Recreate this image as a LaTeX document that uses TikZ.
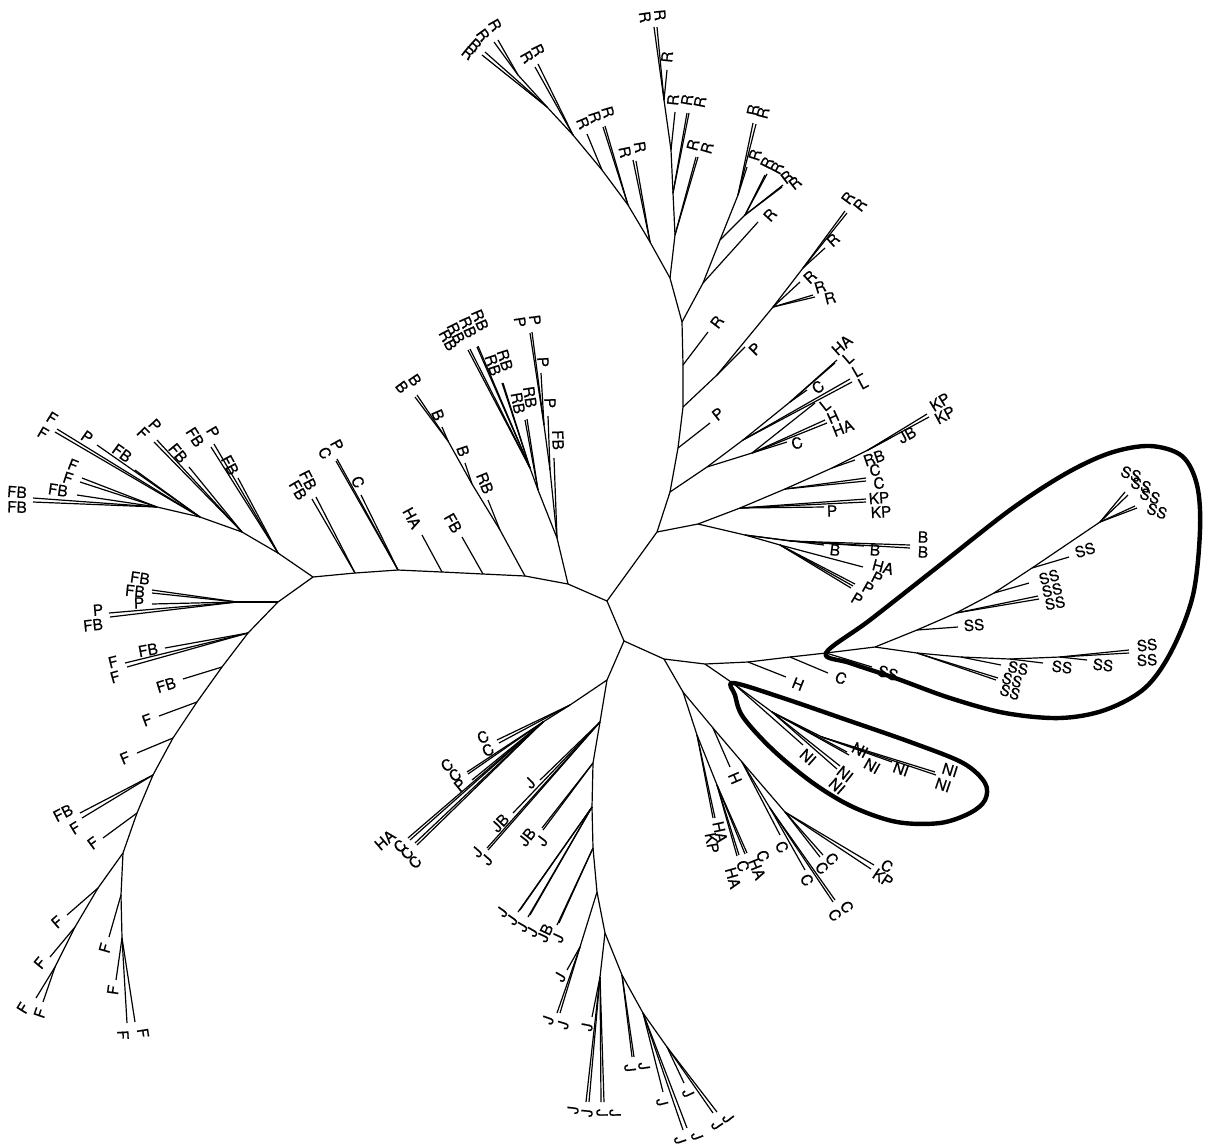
\documentclass[tikz,border=0pt]{standalone}
\usepackage{fontspec}
\setmainfont{TeX Gyre Heros}
\newfontfamily\tagfont{TeX Gyre Heros}[FakeBold=0.5]
\usepackage{tikz}
\usetikzlibrary{calc}

% tip of the tree: [turn], parent, name, tip, label centre, text
\newcommand\leafat[6][]{%
  \coordinate (#3) at (#4);
  \draw[branch] (#2) -- (#3);
  \ifx\relax#1\relax
    \pgfmathanglebetweenpoints{\pgfpointanchor{#2}{center}}{\pgfpointanchor{#3}{center}}%
    \let\tipang\pgfmathresult
    \pgfmathsetmacro\tiprot{ifthenelse(and(\tipang>90,\tipang<=270),\tipang-180,\tipang)}%
  \else
    \def\tiprot{#1}%
  \fi
  \node[tag,rotate=\tiprot] (#3t) at (#5) {#6};%
}

\begin{document}
\begin{tikzpicture}[x=0.75pt,y=-0.75pt,
  branch/.style={line width=0.9pt},
  tag/.style={inner sep=0pt,font=\tagfont\fontsize{11.5}{13}\selectfont},
  clade/.style={line width=3.3pt,line join=round}
]
\useasboundingbox (0,0) rectangle (1209,1147);

% inner nodes
\coordinate (a) at (607,601);
\coordinate (b) at (624,641);
\coordinate (u1) at (657,532);
\coordinate (u2) at (670,492);
\coordinate (n1) at (698,524);
\coordinate (n2) at (740,508);
\coordinate (n4) at (785,489);
\coordinate (n5) at (832,468);
\coordinate (n6) at (868,450);
\coordinate (n3) at (745,535);
\coordinate (nb) at (790,541);
\coordinate (np) at (780,545);
\coordinate (h0) at (707,467);
\coordinate (h1) at (743,440);
\coordinate (h3) at (790,402);
\coordinate (h2) at (752,453);
\coordinate (t1) at (678,448);
\coordinate (t2) at (683,407);
\coordinate (t3) at (683,365);
\coordinate (t4) at (682,322);
\coordinate (t5) at (670,278);
\coordinate (q1) at (717,375);
\coordinate (q2) at (773,307);
\coordinate (q3) at (803,268);
\coordinate (rl1) at (650,242);
\coordinate (rl2) at (628,205);
\coordinate (rl3) at (602,170);
\coordinate (rl4) at (573,135);
\coordinate (rl5) at (547,107);
\coordinate (rl6) at (518,75);
\coordinate (rm1) at (675,235);
\coordinate (rm2) at (673,193);
\coordinate (rm3) at (671,150);
\coordinate (rm4) at (664,100);
\coordinate (rr1) at (703,283);
\coordinate (rr2) at (720,240);
\coordinate (rr3) at (738,195);
\coordinate (rr4) at (745,215);
\coordinate (ar0) at (568,584);
\coordinate (ar1) at (557,538);
\coordinate (ar2) at (525,576);
\coordinate (ar3) at (483,574);
\coordinate (ar4) at (442,572);
\coordinate (ar5) at (398,570);
\coordinate (ar6) at (355,573);
\coordinate (l0) at (313,577);
\coordinate (pp1) at (550,470);
\coordinate (pp2) at (544,425);
\coordinate (rbn1) at (538,490);
\coordinate (rbn2) at (530,468);
\coordinate (bn1) at (500,530);
\coordinate (bn2) at (472,484);
\coordinate (bn3) at (448,441);
\coordinate (tl1) at (278,553);
\coordinate (tl2) at (242,532);
\coordinate (tl3) at (200,517);
\coordinate (tl4) at (157,507);
\coordinate (ll1) at (278,602);
\coordinate (ll2) at (237,602);
\coordinate (ll3) at (248,633);
\coordinate (ll4) at (222,667);
\coordinate (ll5) at (197,702);
\coordinate (ll6) at (173,738);
\coordinate (ll7) at (153,775);
\coordinate (ll8) at (137,813);
\coordinate (ll9) at (123,853);
\coordinate (ll10) at (98,888);
\coordinate (ll11) at (75,927);
\coordinate (ll14) at (55,967);
\coordinate (ll12) at (121,895);
\coordinate (ll13) at (122,938);
\coordinate (jn0) at (607,680);
\coordinate (lc1) at (570,705);
\coordinate (lc2) at (543,722);
\coordinate (jn1) at (600,722);
\coordinate (jn2) at (593,763);
\coordinate (jn3) at (592,807);
\coordinate (jn4) at (593,848);
\coordinate (jn5) at (597,892);
\coordinate (jn5a) at (580,947);
\coordinate (jn6) at (605,933);
\coordinate (jn7) at (600,977);
\coordinate (jn8) at (622,975);
\coordinate (jn9) at (643,1013);
\coordinate (jn10) at (667,1047);
\coordinate (s0) at (664,659);
\coordinate (s0a) at (705,664);
\coordinate (s0b) at (748,662);
\coordinate (s0c) at (790,657);
\coordinate (s1) at (826,653);
\coordinate (ni0) at (734,684);
\coordinate (nin1) at (772,712);
\coordinate (nin2) at (822,737);
\coordinate (sa) at (875,647);
\coordinate (su1) at (917,630);
\coordinate (su2) at (956,613);
\coordinate (su3) at (994,593);
\coordinate (su4) at (1032,568);
\coordinate (su6) at (1100,522);
\coordinate (sl1) at (917,653);
\coordinate (sl2) at (961,657);
\coordinate (sl3) at (1010,659);
\coordinate (sl4) at (1060,657);
\coordinate (dn1) at (683,692);
\coordinate (dn2) at (697,735);
\coordinate (dn3) at (717,785);
\coordinate (dn4) at (713,728);
\coordinate (dn5) at (742,762);
\coordinate (dn6) at (770,808);
\coordinate (dn7) at (785,812);

% inner branches
\draw[branch] (a) -- (b);
\draw[branch] (a) -- (u1) -- (u2) -- (t1) -- (t2) -- (t3) -- (t4) -- (t5);
\draw[branch] (u1) -- (n1) -- (n2) -- (n4) -- (n5) -- (n6);
\draw[branch] (n1) -- (n3) -- (nb);
\draw[branch] (n3) -- (np);
\draw[branch] (u2) -- (h0) -- (h1) -- (h3);
\draw[branch] (h0) -- (h2);
\draw[branch] (t2) -- (q1) -- (q2) -- (q3);
\draw[branch] (t5) -- (rl1) -- (rl2) -- (rl3) -- (rl4) -- (rl5) -- (rl6);
\draw[branch] (t5) -- (rm1) -- (rm2) -- (rm3) -- (rm4);
\draw[branch] (t4) -- (rr1) -- (rr2) -- (rr3);
\draw[branch] (rr2) -- (rr4);
\draw[branch] (a) -- (ar0) -- (ar2) -- (ar3) -- (ar4) -- (ar5) -- (ar6) -- (l0);
\draw[branch] (ar0) -- (ar1) -- (pp1) -- (pp2);
\draw[branch] (ar1) -- (rbn1) -- (rbn2);
\draw[branch] (ar2) -- (bn1) -- (bn2) -- (bn3);
\draw[branch] (l0) -- (tl1) -- (tl2) -- (tl3) -- (tl4);
\draw[branch] (l0) -- (ll1) -- (ll3) -- (ll4) -- (ll5) -- (ll6) -- (ll7) -- (ll8) -- (ll9) -- (ll10) -- (ll11) -- (ll14);
\draw[branch] (ll1) -- (ll2);
\draw[branch] (ll9) -- (ll12) -- (ll13);
\draw[branch] (b) -- (jn0) -- (jn1) -- (jn2) -- (jn3) -- (jn4) -- (jn5) -- (jn6) -- (jn7);
\draw[branch] (jn0) -- (lc1) -- (lc2);
\draw[branch] (jn5) -- (jn5a);
\draw[branch] (jn6) -- (jn8) -- (jn9) -- (jn10);
\draw[branch] (b) -- (s0) -- (s0a) -- (s0b) -- (s0c) -- (s1) -- (sa) -- (su1) -- (su2) -- (su3) -- (su4) -- (su6);
\draw[branch] (sa) -- (sl1) -- (sl2) -- (sl3) -- (sl4);
\draw[branch] (s0a) -- (ni0) -- (nin1) -- (nin2);
\draw[branch] (s0) -- (dn1) -- (dn2) -- (dn3);
\draw[branch] (dn1) -- (dn4) -- (dn5) -- (dn6);
\draw[branch] (dn5) -- (dn7);

% upper right
\leafat{n2}{kp1}{866,499}{879,498}{KP}
\leafat{n2}{kp2}{866,502}{881,512}{KP}
\leafat{n2}{p1}{824,507}{832,511}{P}
\leafat{n4}{c1}{866,478}{875,470}{C}
\leafat{n4}{c2}{866,481}{879,483}{C}
\leafat{n5}{rb1}{855,460}{874,458}{RB}
\leafat{n6}{jb1}{892,437}{907,435}{JB}
\leafat{n6}{kp3}{927,414}{940,402}{KP}
\leafat{n6}{kp4}{929,417}{945,415}{KP}
\leafat{n3}{b1}{824,545}{835,550}{B}
\leafat{nb}{b2}{864,546}{875,550}{B}
\leafat{nb}{b3}{910,545}{923,537}{B}
\leafat{nb}{b4}{910,548}{923,552}{B}
\leafat{np}{ha1}{863,567}{883,567}{HA}
\leafat{np}{p2}{855,584}{877,578}{P}
\leafat{np}{p3}{853,586}{868,588}{P}
\leafat{np}{p4}{851,588}{857,599}{P}
\leafat{h3}{ha2}{837,360}{842,345}{HA}
\leafat{h3}{l1}{835,363}{848,358}{L}
\leafat{h3}{c3}{807,390}{818,387}{C}
\leafat{h1}{l2}{850,379}{857,371}{L}
\leafat{h1}{l3}{852,382}{863,383}{L}
\leafat{h2}{l4}{815,403}{825,405}{L}
\leafat{h2}{hh1}{825,420}{833,417}{H}
\leafat{h2}{ha3}{827,423}{843,428}{HA}
\leafat{h2}{c4}{787,442}{797,443}{C}
\leafat{t1}{p5}{710,423}{718,414}{P}
\leafat{t3}{r1}{708,332}{717,322}{R}
\leafat{q1}{p6}{745,347}{755,349}{P}
\leafat{q2}{r2}{800,282}{810,277}{R}
\leafat{q2}{r3}{813,295}{820,287}{R}
\leafat{q2}{r4}{815,297}{830,298}{R}
\leafat{q3}{r5}{825,248}{833,240}{R}
\leafat{q3}{r6}{845,211}{848,198}{R}
\leafat{q3}{r7}{847,213}{860,205}{R}

% top
\leafat{rl1}{r8}{633,160}{625,152}{R}
\leafat{rl1}{r9}{636,161}{640,147}{R}
\leafat{rl2}{r10}{603,127}{595,117}{R}
\leafat{rl2}{r11}{605,126}{608,112}{R}
\leafat{rl3}{r12}{587,134}{583,123}{R}
\leafat{rl4}{r13}{535,67}{527,57}{R}
\leafat{rl4}{r14}{538,64}{538,50}{R}
\leafat{rl5}{r15}{482,55}{468,53}{R}
\leafat{rl5}{r16}{485,52}{475,45}{R}
\leafat{rl6}{r17}{494,42}{483,35}{R}
\leafat{rl6}{r18}{498,40}{495,25}{R}
\leafat{rm1}{r19}{696,157}{693,145}{R}
\leafat{rm1}{r20}{698,157}{707,148}{R}
\leafat{rm2}{r21}{687,113}{687,100}{R}
\leafat{rm2}{r22}{689,113}{700,102}{R}
\leafat{rm3}{r23}{675,112}{673,100}{R}
\leafat{rm4}{r24}{667,70}{667,57}{R}
\leafat{rm4}{r25}{654,27}{645,17}{R}
\leafat{rm4}{r26}{657,27}{660,15}{R}
\leafat{rr1}{r27}{758,222}{770,215}{R}
\leafat{rr3}{r28}{747,167}{755,155}{R}
\leafat{rr3}{r29}{753,123}{753,110}{R}
\leafat{rr3}{r30}{756,124}{763,113}{R}
\leafat{rr4}{r31}{765,175}{767,163}{R}
\leafat{rr4}{r32}{767,174}{777,168}{R}
\leafat{rr4}{r33}{782,187}{787,177}{R}
\leafat{rr4}{r34}{783,185}{795,183}{R}

% left arc
\leafat{ar1}{fb1}{554,458}{558,440}{FB}
\leafat{pp1}{p7}{548,416}{550,403}{P}
\leafat{pp2}{p8}{541,373}{543,362}{P}
\leafat{pp2}{p9}{530,333}{520,322}{P}
\leafat{pp2}{p10}{532,332}{535,320}{P}
\leafat{rbn1}{rb2}{525,420}{518,403}{RB}
\leafat{rbn1}{rb3}{527,419}{530,397}{RB}
\leafat{rbn2}{rb4}{502,383}{493,365}{RB}
\leafat{rbn2}{rb5}{503,383}{505,360}{RB}
\leafat{rbn2}{rb6}{468,350}{448,340}{RB}
\leafat{rbn2}{rb7}{470,349}{456,333}{RB}
\leafat{rbn2}{rb8}{477,347}{468,327}{RB}
\leafat{rbn2}{rb9}{478,346}{480,320}{RB}
\leafat{bn1}{rb10}{488,500}{485,483}{RB}
\leafat{bn2}{b5}{465,463}{463,451}{B}
\leafat{bn3}{b6}{442,427}{438,415}{B}
\leafat{bn3}{b7}{417,395}{415,380}{B}
\leafat{bn3}{b8}{415,397}{402,387}{B}
\leafat{ar3}{fb2}{462,537}{453,523}{FB}
\leafat{ar4}{ha4}{422,535}{412,518}{HA}
\leafat{ar5}{c5}{361,495}{358,482}{C}
\leafat{ar5}{p11}{337,459}{337,445}{P}
\leafat{ar5}{c6}{336,461}{325,453}{C}
\leafat{ar6}{fb3}{316,497}{308,480}{FB}
\leafat{ar6}{fb4}{312,499}{298,490}{FB}

% top left
\leafat{tl1}{fb5}{238,478}{230,465}{FB}
\leafat{tl1}{p12}{214,444}{213,432}{P}
\leafat{tl1}{fb6}{211,447}{195,437}{FB}
\leafat{tl2}{p13}{157,440}{155,425}{P}
\leafat{tl2}{f1}{154,442}{143,433}{F}
\leafat{tl2}{fb7}{189,467}{178,453}{FB}
\leafat{tl3}{p14}{97,445}{87,437}{P}
\leafat{tl3}{fb8}{135,470}{122,453}{FB}
\leafat{tl3}{f2}{57,429}{52,418}{F}
\leafat{tl3}{f3}{55,432}{43,433}{F}
\leafat{tl4}{f4}{82,478}{73,465}{F}
\leafat{tl4}{f5}{80,482}{68,478}{F}
\leafat{tl4}{fb9}{77,495}{58,490}{FB}
\leafat{tl4}{fb10}{33,498}{17,492}{FB}
\leafat{tl4}{fb11}{33,502}{17,507}{FB}

% lower left
\leafat{ll2}{fb12}{152,590}{140,578}{FB}
\leafat{ll2}{fb13}{152,593}{135,591}{FB}
\leafat{ll2}{p15}{152,604}{139,603}{P}
\leafat{ll2}{p16}{109,613}{98,610}{P}
\leafat{ll2}{fb14}{110,617}{93,625}{FB}
\leafat{ll3}{fb15}{165,648}{148,650}{FB}
\leafat{ll3}{f6}{125,663}{113,662}{F}
\leafat{ll3}{f7}{127,667}{115,677}{F}
\leafat{ll4}{fb16}{183,679}{166,685}{FB}
\leafat{ll5}{f8}{159,716}{147,720}{F}
\leafat{ll6}{f9}{137,753}{125,758}{F}
\leafat{ll7}{fb17}{80,813}{63,813}{FB}
\leafat{ll7}{f10}{82,818}{75,828}{F}
\leafat{ll8}{f11}{103,838}{93,843}{F}
\leafat{ll10}{f12}{67,915}{57,922}{F}
\leafat{ll11}{f13}{50,957}{40,963}{F}
\leafat{ll14}{f14}{36,998}{23,1008}{F}
\leafat{ll14}{f15}{43,1002}{40,1013}{F}
\leafat{ll12}{f16}{109,937}{105,948}{F}
\leafat{ll13}{f17}{116,980}{113,990}{F}
\leafat{ll13}{f18}{127,1023}{123,1035}{F}
\leafat{ll13}{f19}{135,1022}{143,1033}{F}

% bottom
\leafat{lc1}{c7}{497,740}{483,737}{C}
\leafat{lc1}{c8}{499,743}{488,750}{C}
\leafat{lc2}{c9}{467,772}{447,765}{C}
\leafat{lc2}{c10}{468,774}{455,775}{C}
\leafat{lc2}{p17}{472,780}{460,785}{P}
\leafat{lc2}{ha5}{408,838}{385,840}{HA}
\leafat{lc2}{c11}{410,840}{400,846}{C}
\leafat{lc2}{c12}{415,843}{407,853}{C}
\leafat{lc2}{c13}{417,845}{415,862}{C}
\leafat{jn1}{j1}{540,780}{530,783}{J}
\leafat{jn1}{jb2}{513,813}{500,823}{JB}
\leafat{jn1}{j2}{487,848}{477,852}{J}
\leafat{jn1}{j3}{488,850}{487,860}{J}
\leafat{jn2}{jb3}{542,828}{527,837}{JB}
\leafat{jn2}{j4}{543,830}{542,841}{J}
\leafat{jn3}{j5}{518,912}{502,912}{J}
\leafat{jn3}{j6}{520,910}{512,920}{J}
\leafat{jn3}{j7}{528,917}{522,927}{J}
\leafat{jn3}{j8}{530,915}{532,932}{J}
\leafat{jn4}{jb4}{557,925}{545,933}{JB}
\leafat{jn4}{j9}{559,923}{558,938}{J}
\leafat{jn5a}{j10}{567,970}{560,977}{J}
\leafat{jn5a}{j11}{557,1013}{548,1020}{J}
\leafat{jn5a}{j12}{560,1013}{563,1025}{J}
\leafat{jn7}{j13}{592,1017}{587,1027}{J}
\leafat{jn7}{j14}{586,1102}{573,1110}{J}
\leafat{jn7}{j15}{589,1102}{587,1113}{J}
\leafat{jn7}{j16}{601,1102}{602,1113}{J}
\leafat{jn7}{j17}{604,1102}{615,1113}{J}
\leafat{jn8}{j18}{632,1057}{630,1068}{J}
\leafat{jn8}{j19}{634,1057}{644,1066}{J}
\leafat{jn9}{j20}{663,1092}{662,1102}{J}
\leafat{jn9}{j21}{683,1130}{680,1140}{J}
\leafat{jn9}{j22}{687,1128}{697,1136}{J}
\leafat{jn10}{j23}{684,1083}{688,1093}{J}
\leafat{jn10}{j24}{713,1113}{717,1125}{J}
\leafat{jn10}{j25}{717,1112}{728,1118}{J}

% lower right
\leafat{s0b}{hh2}{786,677}{798,684}{H}
\leafat{s0c}{c14}{828,673}{841,678}{C}
\leafat{ni0}{ni1}{803,745}{808,757}{NI}
\leafat{nin1}{ni2}{840,766}{845,774}{NI}
\leafat{nin1}{ni3}{837,769}{837,786}{NI}
\leafat{nin1}{ni4}{847,752}{860,750}{NI}
\leafat{nin1}{ni5}{849,755}{872,766}{NI}
\leafat{nin2}{ni6}{892,762}{901,769}{NI}
\leafat{nin2}{ni7}{935,772}{950,770}{NI}
\leafat{nin2}{ni8}{936,775}{943,785}{NI}
\leafat{dn2}{ha6}{715,818}{720,832}{HA}
\leafat{dn2}{kp5}{713,818}{712,843}{KP}
\leafat{dn3}{c15}{747,853}{763,856}{C}
\leafat{dn3}{ha7}{745,854}{757,869}{HA}
\leafat{dn3}{c16}{739,855}{743,866}{C}
\leafat{dn3}{ha8}{737,856}{733,878}{HA}
\leafat{dn4}{hh3}{730,767}{735,778}{H}
\leafat{dn5}{c17}{780,835}{782,847}{C}
\leafat{dn6}{c18}{805,870}{807,880}{C}
\leafat{dn6}{c19}{833,902}{835,915}{C}
\leafat{dn6}{c20}{835,900}{847,907}{C}
\leafat{dn7}{c21}{820,857}{822,868}{C}
\leafat{dn7}{c22}{823,855}{832,859}{C}
\leafat{dn7}{c23}{874,865}{887,866}{C}
\leafat{dn7}{kp6}{871,869}{883,878}{KP}

% SS clade
\leafat{s1}{ss1}{872,667}{888,673}{SS}
\leafat{su1}{ss2}{958,627}{974,625}{SS}
\leafat{su3}{ss3}{1029,583}{1049,577}{SS}
\leafat{su2}{ss4}{1038,596}{1052,590}{SS}
\leafat{su2}{ss5}{1039,599}{1055,603}{SS}
\leafat{su4}{ss6}{1069,557}{1085,550}{SS}
\leafat[-20]{su6}{ss7}{1125,492}{1131,474}{SS}
\leafat[-20]{su6}{ss8}{1128,495}{1141,485}{SS}
\leafat[-20]{su6}{ss9}{1135,506}{1150,496}{SS}
\leafat[-20]{su6}{ss10}{1137,508}{1157,511}{SS}
\leafat{sl1}{ss11}{996,680}{1010,692}{SS}
\leafat{sl1}{ss12}{998,678}{1012,680}{SS}
\leafat{sl2}{ss13}{1001,665}{1018,668}{SS}
\leafat{sl3}{ss14}{1043,663}{1062,667}{SS}
\leafat{sl4}{ss15}{1087,660}{1103,665}{SS}
\leafat{sl4}{ss16}{1129,650}{1147,645}{SS}
\leafat{sl4}{ss17}{1129,653}{1147,660}{SS}

% the two outlined clades
\draw[clade] plot[smooth cycle,tension=0.55] coordinates {(826,653) (870,620) (940,565) (1010,510) (1065,474) (1110,453) (1150,446) (1182,456) (1197,485) (1200,530) (1193,595) (1172,650) (1145,688) (1105,710) (1060,718) (1005,713) (950,698) (895,678) (850,663)};
\draw[clade] plot[smooth cycle,tension=0.55] coordinates {(733,683) (780,697) (847,720) (913,743) (963,763) (985,783) (985,800) (970,813) (940,823) (897,822) (853,807) (813,783) (773,750) (743,717) (735,695)};
\end{tikzpicture}
\end{document}
